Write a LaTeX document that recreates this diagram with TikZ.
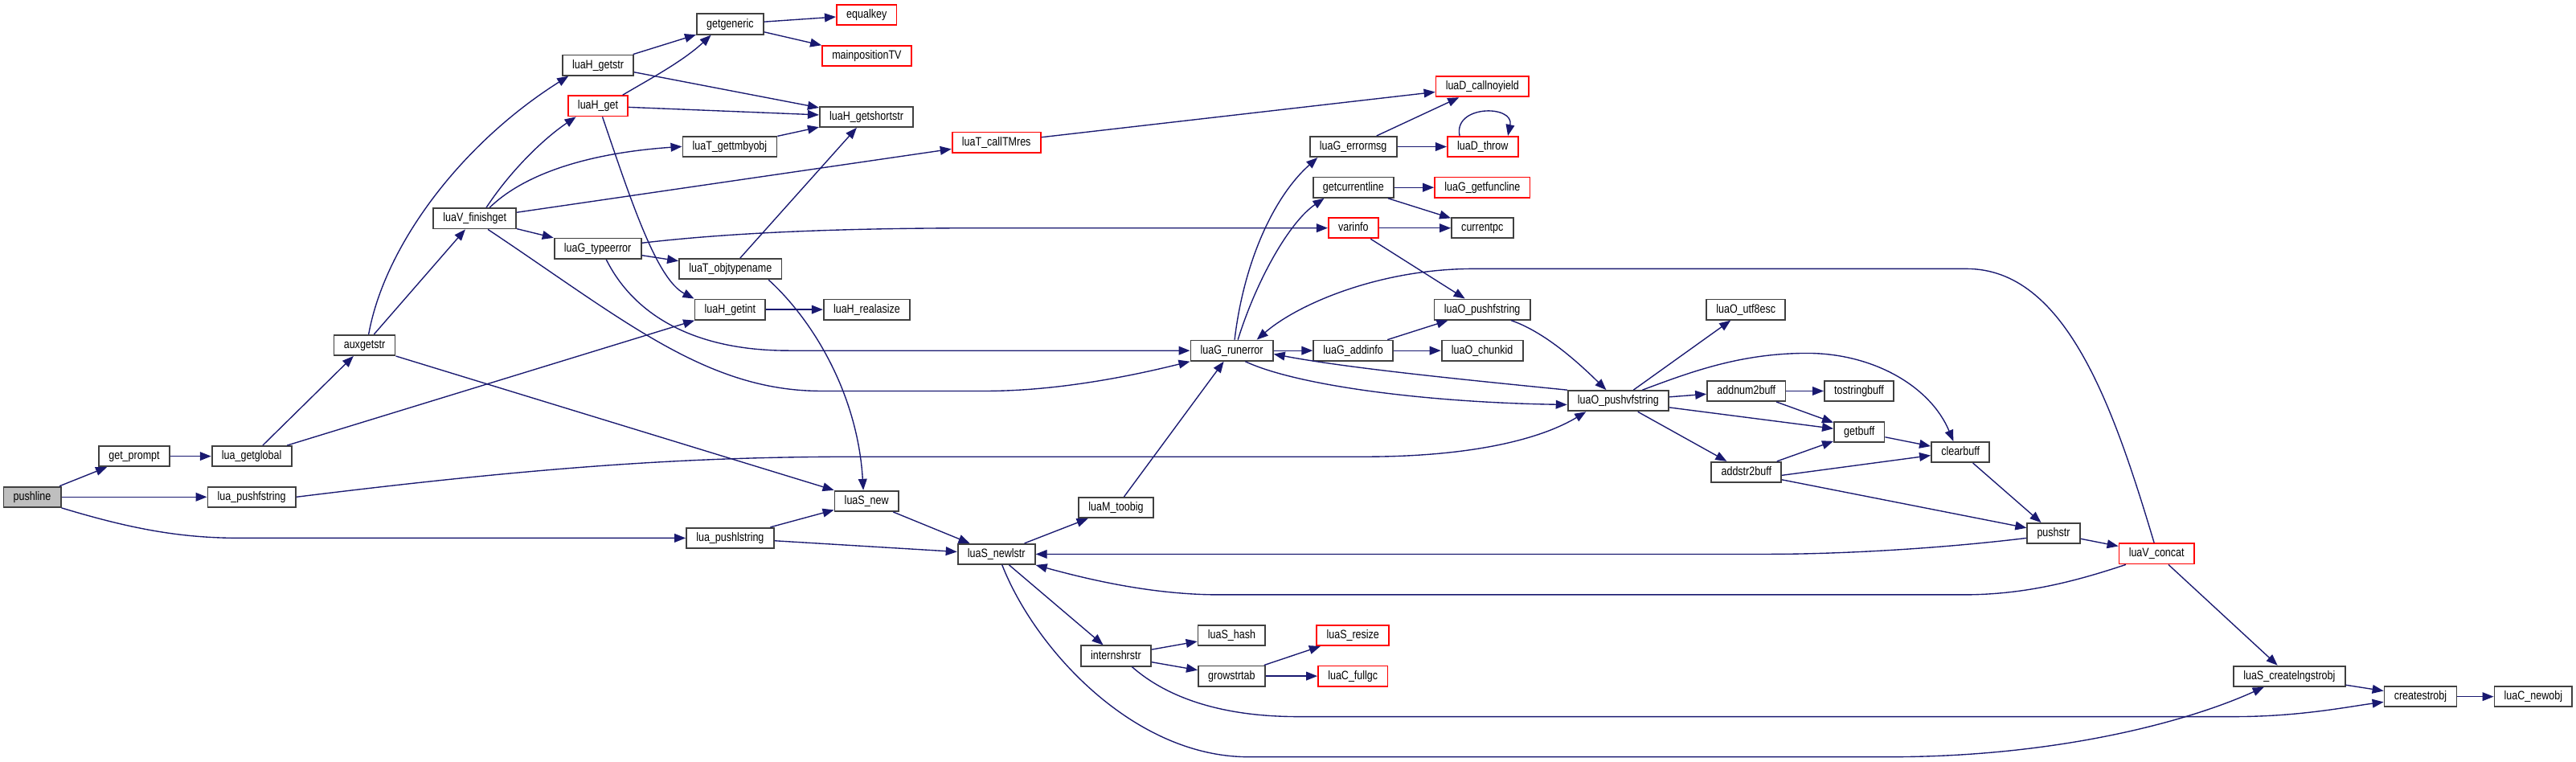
\documentclass[tikz,border=0pt]{standalone}
\usepackage{fontspec}
\setmainfont{Liberation Sans}[FakeStretch=0.83]
\usetikzlibrary{arrows.meta,calc}
\definecolor{Edge}{HTML}{191970}
\definecolor{Frame}{HTML}{404040}
\definecolor{Root}{HTML}{BFBFBF}
\definecolor{Warn}{HTML}{FF0000}

\begin{document}
\begin{tikzpicture}[x=0.02cm,y=-0.02cm,
  box/.style={draw=Frame,fill=white,line width=0.5pt,minimum height=7.05pt,inner xsep=3.41pt,inner ysep=0pt,text height=3.1pt,text depth=0.8pt,font=\fontsize{4.2}{5}\selectfont},
  boxred/.style={box,draw=Warn},
  boxroot/.style={box,fill=Root},
  calls/.style={-{Triangle[length=3.9pt,width=3pt]},draw=Edge,line width=0.38pt}
]
\path[use as bounding box] (0,0) rectangle (1568,463.8);

\node[boxroot] (pushline) at (19.6,302.5) {pushline};
\node[box] (getprompt) at (81.7,277.7) {get\_prompt};
\node[box] (getglobal) at (153.2,277.7) {lua\_getglobal};
\node[box] (pushfstr) at (153.2,302.5) {lua\_pushfstring};
\node[box] (auxgetstr) at (221.9,210.1) {auxgetstr};
\node[box] (finishget) at (289,133) {luaV\_finishget};
\node[box] (getstr) at (364,39.7) {luaH\_getstr};
\node[boxred] (hget) at (364,64.5) {luaH\_get};
\node[box] (getgeneric) at (444.4,14.7) {getgeneric};
\node[boxred] (equalkey) at (527.5,9) {equalkey};
\node[boxred] (mainpos) at (527.6,33.9) {mainpositionTV};
\node[box] (getshortstr) at (527.4,71.1) {luaH\_getshortstr};
\node[box] (gettmbyobj) at (444.2,89.2) {luaT\_gettmbyobj};
\node[box] (typeerror) at (363.8,151.3) {luaG\_typeerror};
\node[box] (objtypename) at (444.6,163.7) {luaT\_objtypename};
\node[box] (getint) at (444.4,188.4) {luaH\_getint};
\node[box] (realasize) at (527.6,188.4) {luaH\_realasize};
\node[boxred] (calltmres) at (606.5,86.7) {luaT\_callTMres};
\node[box] (pushlstr) at (444.4,327.5) {lua\_pushlstring};
\node[box] (snew) at (527.5,305) {luaS\_new};
\node[box] (newlstr) at (606.5,337.3) {luaS\_newlstr};
\node[box] (toobig) at (679.3,309) {luaM\_toobig};
\node[box] (internshr) at (679.3,399.2) {internshrstr};
\node[box] (shash) at (749.7,386.7) {luaS\_hash};
\node[box] (growstrtab) at (749.7,411.5) {growstrtab};
\node[boxred] (resize) at (823.5,386.7) {luaS\_resize};
\node[boxred] (fullgc) at (823.5,411.5) {luaC\_fullgc};
\node[box] (runerror) at (749.8,213.4) {luaG\_runerror};
\node[box] (addinfo) at (823.7,213.4) {luaG\_addinfo};
\node[box] (chunkid) at (902.2,213.4) {luaO\_chunkid};
\node[box] (opushfstr) at (902.2,188.4) {luaO\_pushfstring};
\node[box] (errormsg) at (823.7,89.3) {luaG\_errormsg};
\node[boxred] (throw) at (902.5,89.3) {luaD\_throw};
\node[boxred] (callnoyield) at (902.3,52.7) {luaD\_callnoyield};
\node[box] (curline) at (823.8,114.1) {getcurrentline};
\node[boxred] (getfuncline) at (902.3,114.1) {luaG\_getfuncline};
\node[boxred] (varinfo) at (823.8,138.8) {varinfo};
\node[box] (currentpc) at (902.3,138.8) {currentpc};
\node[box] (pushvf) at (985,244) {luaO\_pushvfstring};
\node[box] (utf8esc) at (1062.7,188.4) {luaO\_utf8esc};
\node[box] (addnum) at (1063,238) {addnum2buff};
\node[box] (addstr) at (1063,287.4) {addstr2buff};
\node[box] (tostrbuf) at (1131.6,238) {tostringbuff};
\node[box] (getbuff) at (1131.7,262.9) {getbuff};
\node[box] (clearbuff) at (1193.3,275.2) {clearbuff};
\node[box] (pushstr) at (1250,324.7) {pushstr};
\node[boxred] (concat) at (1312.7,337) {luaV\_concat};
\node[box] (createlng) at (1393.5,411.6) {luaS\_createlngstrobj};
\node[box] (createstrobj) at (1473.3,424) {createstrobj};
\node[box] (newobj) at (1542,424) {luaC\_newobj};

\draw[calls] (pushline) -- (getprompt);
\draw[calls] (pushline) -- (pushfstr);
\draw[calls] (pushline.south east) .. controls (80,322) and (110,327.5) .. (pushlstr.west -| 146,0) -- (pushlstr.west);
\draw[calls] (getprompt) -- (getglobal);
\draw[calls] (getglobal) -- (auxgetstr);
\draw[calls] (getglobal) -- (getint);
\draw[calls] (pushfstr.east) .. controls (330,284) and (420,278) .. (520,278) -- (830,278) .. controls (900,278) and (940,266) .. (pushvf.south -| 965.4,0);
\draw[calls] (auxgetstr) -- (finishget);
\draw[calls] (auxgetstr.north -| 224.4,0) .. controls (234,150) and (280,88) .. (getstr.south -| 346,0);
\draw[calls] (auxgetstr.south east) -- (snew.north west);
\draw[calls] (pushlstr) -- (snew);
\draw[calls] (pushlstr) -- (newlstr);
\draw[calls] (snew) -- (newlstr);
\draw[calls] (finishget.north -| 296,0) .. controls (310,105) and (330,85) .. (hget.south -| 350.6,0);
\draw[calls] (finishget.north -| 298,0) .. controls (320,105) and (360,93) .. (gettmbyobj.west);
\draw[calls] (finishget) -- (calltmres);
\draw[calls] (finishget) -- (typeerror);
\draw[calls] (finishget.south -| 297,0) .. controls (380,195) and (430,238) .. (500,238) -- (600,238) .. controls (650,238) and (700,226) .. (runerror.south west);
\draw[calls] (typeerror) -- (objtypename);
\draw[calls] (typeerror.east |- 0,147.9) .. controls (450,141) and (520,138.8) .. (600,138.8) -- (varinfo.west);
\draw[calls] (typeerror.south -| 369,0) .. controls (385,190) and (420,213.4) .. (480,213.4) -- (runerror.west);
\draw[calls] (getstr) -- (getgeneric);
\draw[calls] (getstr) -- (getshortstr);
\draw[calls] (hget.north -| 379,0) .. controls (392,50) and (415,38) .. (getgeneric.south -| 432.8,0);
\draw[calls] (hget) -- (getshortstr);
\draw[calls] (hget.south -| 366.7,0) .. controls (385,125) and (400,170) .. (getint.north west);
\draw[calls] (getgeneric) -- (equalkey);
\draw[calls] (getgeneric) -- (mainpos);
\draw[calls] (gettmbyobj) -- (getshortstr);
\draw[calls] (objtypename) -- (getshortstr);
\draw[calls] (objtypename.south -| 467.8,0) .. controls (495,195) and (522,240) .. (snew.north -| 525.5,0);
\draw[calls] (getint) -- (realasize);
\draw[calls] (calltmres) -- (callnoyield);
\draw[calls] (runerror.north -| 751.5,0) .. controls (757,160) and (775,120) .. (errormsg.south -| 802,0);
\draw[calls] (runerror.north -| 753.5,0) .. controls (765,170) and (785,135) .. (curline.south -| 806,0);
\draw[calls] (runerror) -- (addinfo);
\draw[calls] (pushvf.north west) .. controls (890,231) and (820,224) .. (runerror.east |- 0,215.5);
\draw[calls] (runerror.south -| 758,0) .. controls (790,235) and (870,245) .. (pushvf.west |- 0,246.3);
\draw[calls] (concat.north -| 1311.2,0) .. controls (1286,246) and (1257,163.6) .. (1197,163.6) -- (897,163.6) .. controls (840,163.6) and (790,185) .. (runerror.north -| 765,0);
\draw[calls] (errormsg) -- (callnoyield);
\draw[calls] (errormsg) -- (throw);
\draw[calls] ($(throw.north west)!0.18!(throw.north east)$) .. controls +(-4,-19) and +(4,-19) .. ($(throw.north west)!0.85!(throw.north east)$);
\draw[calls] (curline) -- (getfuncline);
\draw[calls] (curline) -- (currentpc);
\draw[calls] (varinfo) -- (currentpc);
\draw[calls] (varinfo) -- (opushfstr);
\draw[calls] (addinfo) -- (opushfstr);
\draw[calls] (addinfo) -- (chunkid);
\draw[calls] (opushfstr.south -| 919.8,0) .. controls (940,202) and (960,220) .. (pushvf.north -| 977.7,0);
\draw[calls] (pushvf) -- (utf8esc);
\draw[calls] (pushvf) -- (addnum);
\draw[calls] (pushvf) -- (getbuff);
\draw[calls] (pushvf) -- (addstr);
\draw[calls] (pushvf.north -| 999.7,0) .. controls (1030,226) and (1060,215) .. (1100,215) .. controls (1140,215) and (1175,235) .. (clearbuff.north -| 1189,0);
\draw[calls] (addnum) -- (tostrbuf);
\draw[calls] (addnum) -- (getbuff);
\draw[calls] (addstr) -- (getbuff);
\draw[calls] (addstr.east |- 0,289.3) -- (clearbuff.west |- 0,277.2);
\draw[calls] (addstr.east |- 0,292) -- (pushstr.west |- 0,321.3);
\draw[calls] (getbuff) -- (clearbuff);
\draw[calls] (clearbuff) -- (pushstr);
\draw[calls] (pushstr) -- (concat);
\draw[calls] (pushstr.west |- 0,327.5) .. controls (1180,334) and (1120,337.3) .. (1076,337.3) -- (newlstr.east);
\draw[calls] (concat.south -| 1294,0) .. controls (1260,355) and (1230,362) .. (1195,362) -- (742,362) .. controls (700,362) and (660,352) .. (newlstr.south east);
\draw[calls] (concat) -- (createlng);
\draw[calls] (createlng) -- (createstrobj);
\draw[calls] (createstrobj) -- (newobj);
\draw[calls] (newlstr) -- (toobig);
\draw[calls] (newlstr) -- (internshr);
\draw[calls] (newlstr.south -| 610,0) .. controls (630,395) and (690,460.7) .. (760,460.7) -- (1150,460.7) .. controls (1250,460.7) and (1330,440) .. (createlng.south -| 1378,0);
\draw[calls] (toobig) -- (runerror);
\draw[calls] (internshr) -- (shash);
\draw[calls] (internshr) -- (growstrtab);
\draw[calls] (internshr.south -| 689,0) .. controls (705,420) and (735,436.2) .. (790,436.2) -- (1360,436.2) .. controls (1400,436.2) and (1430,430) .. (createstrobj.west |- 0,427.3);
\draw[calls] (growstrtab) -- (resize);
\draw[calls] (growstrtab) -- (fullgc);
\end{tikzpicture}
\end{document}
